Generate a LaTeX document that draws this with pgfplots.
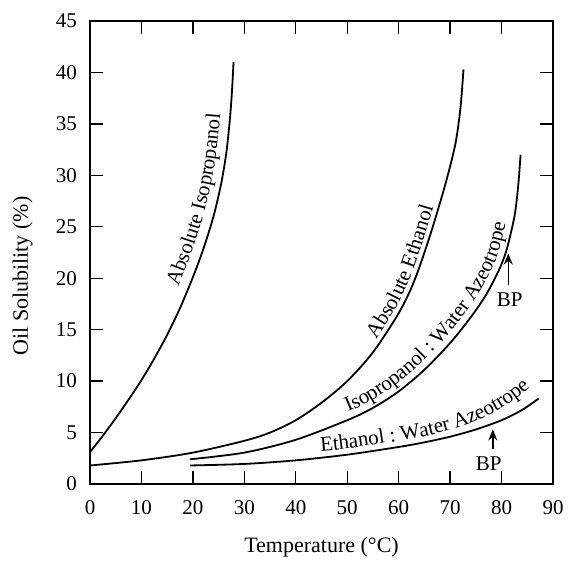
\documentclass[border=0pt]{standalone}
\usepackage{fontspec}
\setmainfont{Liberation Serif}
\usepackage{pgfplots}
\pgfplotsset{compat=1.18}
\usetikzlibrary{arrows.meta,decorations.text}

\begin{document}
\fontsize{21}{25}\selectfont
\begin{tikzpicture}
\begin{axis}[
    name=ax,
    scale only axis,
    width=463pt, height=463pt,
    xmin=0, xmax=90, ymin=0, ymax=45,
    xtick={0,10,...,90}, ytick={0,5,...,45},
    tick align=inside, tick pos=both,
    major tick length=13pt,
    axis line style={line width=1.6pt},
    major tick style={black, line width=1.4pt},
    /pgf/number format/assume math mode=true,
    xticklabel style={inner sep=0pt, yshift=-16pt},
    yticklabel style={inner sep=0pt, xshift=-13pt},
    xlabel={Temperature (°C)},
    ylabel={Oil Solubility (\%)},
    xlabel style={at={(axis description cs:0.5,-0.1145)}, anchor=north, inner sep=0pt, font=\fontsize{22}{26}\selectfont},
    ylabel style={at={(axis description cs:-0.1458,0.449)}, anchor=center, inner sep=0pt, font=\fontsize{22}{26}\selectfont},
]
% Absolute Isopropanol
\addplot[line width=1.8pt, smooth] coordinates {
    (0,3.1) (2.5,4.7) (5,6.4) (7.5,8.2) (10,10.1) (12.5,12.2) (15,14.5)
    (17.5,17.1) (20,20.1) (22,22.8) (24,26.0) (25.5,29.2) (26.5,32.2)
    (27.2,35.5) (27.6,38.2) (27.9,41)
};
% Absolute Ethanol
\addplot[line width=1.8pt, smooth] coordinates {
    (0,1.8) (10,2.3) (20,3.05) (30,4.2) (35,5.0) (40,6.2) (45,7.9) (50,10.0)
    (55,12.8) (60,16.6) (63,19.7) (66,24.0) (69,29.0) (71,33.0) (72,36.5) (72.6,40.3)
};
% Isopropanol : Water Azeotrope
\addplot[line width=1.8pt, smooth] coordinates {
    (19.4,2.4) (30,3.05) (40,4.3) (50,6.2) (55,7.4) (60,9.0) (65,11.1)
    (70,13.7) (74,16.2) (77,18.4) (79.5,20.8) (81,22.8) (82.5,26) (83.2,28.8) (83.7,32)
};
% Ethanol : Water Azeotrope
\addplot[line width=1.8pt, smooth] coordinates {
    (19.4,1.8) (30,1.95) (40,2.3) (50,2.85) (60,3.6) (65,4.05) (70,4.6)
    (75,5.3) (80,6.2) (84,7.2) (87.2,8.3)
};

% curve labels
\path[decorate, decoration={text along path, text align=left, raise=10pt,
    text={|\fontsize{21}{25}\selectfont|Absolute Isopropanol}}]
    plot[smooth] coordinates {(axis cs:19,18.8) (axis cs:20,20.1) (axis cs:22,22.8)
    (axis cs:24,26.0) (axis cs:25.5,29.2) (axis cs:26.5,32.2) (axis cs:27.2,35.5)
    (axis cs:27.6,38.2) (axis cs:27.9,41)};
\path[decorate, decoration={text along path, text align=left, raise=5pt,
    text={|\fontsize{21}{25}\selectfont|Absolute Ethanol}}]
    plot[smooth] coordinates {(axis cs:56.4,13.8) (axis cs:60,16.6) (axis cs:63,19.7)
    (axis cs:66,24.0) (axis cs:69,29.0) (axis cs:71,33.0)};
\path[decorate, decoration={text along path, text align=left, raise=7pt,
    text={|\fontsize{21}{25}\selectfont|Isopropanol : Water Azeotrope}}]
    plot[smooth] coordinates {(axis cs:50.7,6.4) (axis cs:55,7.4) (axis cs:60,9.0)
    (axis cs:65,11.1) (axis cs:70,13.7) (axis cs:74,16.2) (axis cs:77,18.4)
    (axis cs:79.5,20.8) (axis cs:81,22.8) (axis cs:82.5,26) (axis cs:83.2,28.8)};
\path[decorate, decoration={text along path, text align=left, raise=6pt,
    text={|\fontsize{21}{25}\selectfont|Ethanol : Water Azeotrope}}]
    plot[smooth] coordinates {(axis cs:45,2.6) (axis cs:50,2.85) (axis cs:60,3.6)
    (axis cs:65,4.05) (axis cs:70,4.65) (axis cs:75,5.5) (axis cs:80,6.7)
    (axis cs:84,8.0) (axis cs:88,9.6) (axis cs:91,11)};

% boiling points
\draw[line width=1.5pt, -{Stealth[length=11pt, width=9pt]}] (axis cs:81.3,19.3) -- (axis cs:81.3,22.4);
\node at (axis cs:81.6,17.9) {BP};
\draw[line width=1.5pt, -{Stealth[length=11pt, width=9pt]}] (axis cs:78.3,3.45) -- (axis cs:78.3,5.3);
\node at (axis cs:77.5,2.0) {BP};
\end{axis}
\pgfresetboundingbox
\path[use as bounding box] ([xshift=-90pt,yshift=-77pt]ax.south west) rectangle ([xshift=22pt,yshift=21pt]ax.north east);
\end{tikzpicture}
\end{document}
